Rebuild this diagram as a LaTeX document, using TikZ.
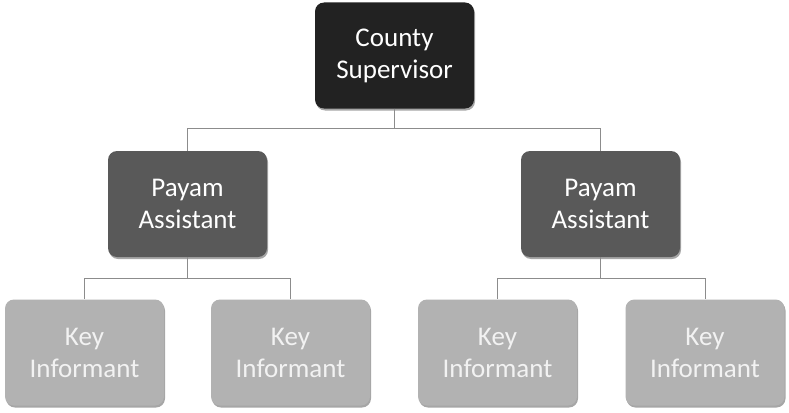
\documentclass[tikz,border=0pt]{standalone}
\usepackage{fontspec}
\setmainfont{Carlito}
\usetikzlibrary{shadows}
\definecolor{topc}{HTML}{222222}
\definecolor{midc}{HTML}{595959}
\definecolor{lowc}{HTML}{B2B2B2}
\definecolor{linec}{HTML}{8C8C8C}
\definecolor{lowtext}{HTML}{F2F2F2}
\tikzset{
  box/.style={rounded corners=9pt, minimum width=159pt, minimum height=106pt,
    align=center, inner sep=0pt, font=\fontsize{27}{32}\selectfont,
    drop shadow={shadow xshift=1pt, shadow yshift=-2pt, opacity=0.35, fill=black}},
  topbox/.style={box, fill=topc, text=white},
  midbox/.style={box, fill=midc, text=white},
  lowbox/.style={box, fill=lowc, text=lowtext},
  conn/.style={draw=linec, line width=1pt}
}
\begin{document}
\begin{tikzpicture}[x=1pt,y=-1pt]
\useasboundingbox[fill=white] (0,0) rectangle (789,412);
\node[topbox] (cs) at (394.5,55.5) {County\\Supervisor};
\node[midbox] (pa1) at (187.5,204) {Payam\\Assistant};
\node[midbox] (pa2) at (600.5,204) {Payam\\Assistant};
\node[lowbox] (k1) at (84.5,352.5) {Key\\Informant};
\node[lowbox] (k2) at (290.5,352.5) {Key\\Informant};
\node[lowbox] (k3) at (497.5,352.5) {Key\\Informant};
\node[lowbox] (k4) at (705,352.5) {Key\\Informant};
\draw[conn] (cs.south) -- ++(0,20) -| (pa1.north);
\draw[conn] (cs.south) -- ++(0,20) -| (pa2.north);
\draw[conn] (pa1.south) -- ++(0,21) -| (k1.north);
\draw[conn] (pa1.south) -- ++(0,21) -| (k2.north);
\draw[conn] (pa2.south) -- ++(0,21) -| (k3.north);
\draw[conn] (pa2.south) -- ++(0,21) -| (k4.north);
\end{tikzpicture}
\end{document}
